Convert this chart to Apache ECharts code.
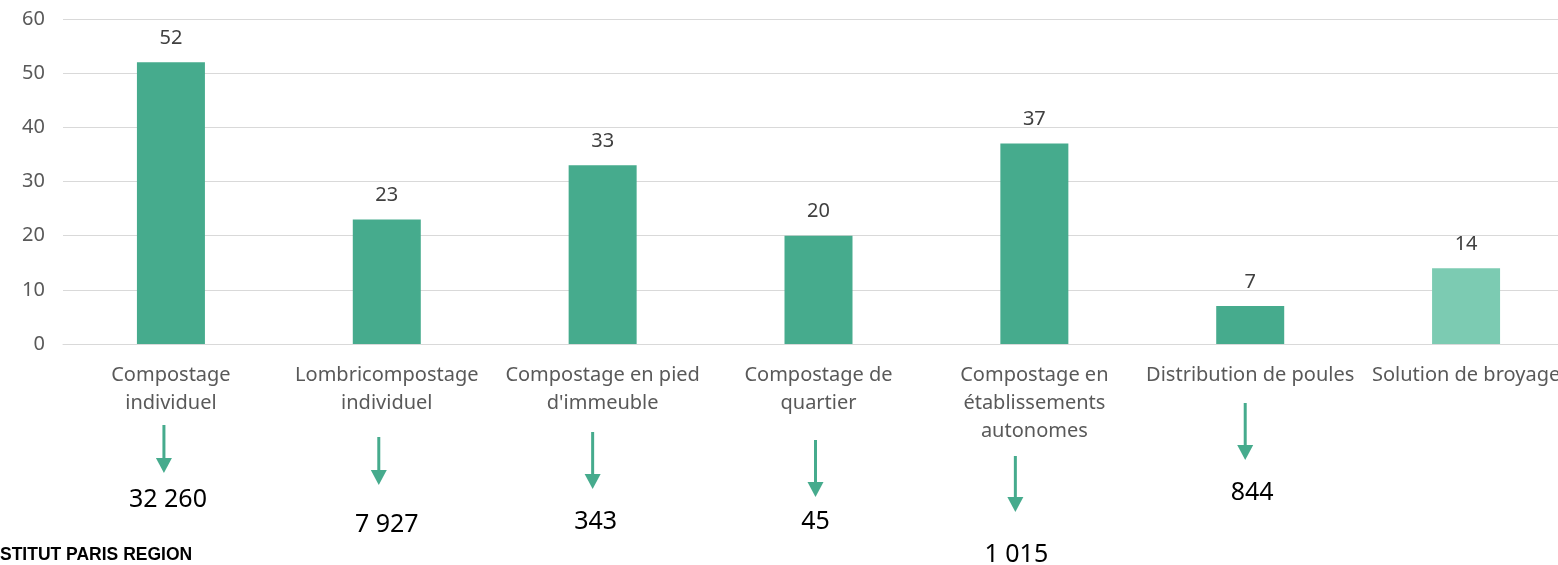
<!DOCTYPE html>
<html>
<head>
<meta charset="utf-8">
<script src="https://cdn.jsdelivr.net/npm/echarts@6/dist/echarts.min.js"></script>
<style>
  html, body { margin: 0; padding: 0; background: #fff; }
  #chart { width: 1558px; height: 565px; }
</style>
</head>
<body>
<div id="chart"></div>
<script>
// categories and values
const categories = [
  'Compostage\nindividuel',
  'Lombricompostage\nindividuel',
  'Compostage en pied\nd\'immeuble',
  'Compostage de\nquartier',
  'Compostage en\nétablissements\nautonomes',
  'Distribution de poules',
  'Solution de broyage'
];
const counts = [52, 23, 33, 20, 37, 7, 14];
const totals = ['32 260', '7 927', '343', '45', '1 015', '844', null];
const yTicks = { min: 0, max: 60, interval: 10 };

// where the arrow and the total sit under each category (px from the axis line)
const arrowDx = [-7, -8, -10, -3, -19, -5, 0];
const arrowTop = [81, 93, 88, 96, 112, 59, 0];
const arrowTip = [129, 141, 145, 153, 168, 116, 0];
const totalDx = [-3, 0, -7, -3, -18, 2, 0];
const totalDy = [156, 181, 178, 178, 211, 149, 0];

const green = '#46AB8D';
const lightGreen = '#7CCBB2';
const font = '"Noto Sans", sans-serif';

const chart = echarts.init(document.getElementById('chart'), null, { renderer: 'canvas' });

const option = {
  animation: false,
  grid: {
    left: 63, width: 1511, top: 19, height: 325,
    containLabel: false,
    outerBoundsMode: 'none'
  },
  xAxis: {
    type: 'category',
    data: categories,
    axisTick: { show: false },
    axisLine: { lineStyle: { color: '#D9D9D9', width: 1 } },
    axisLabel: {
      interval: 0,
      margin: 17,
      color: '#595959',
      fontFamily: font,
      fontSize: 20,
      lineHeight: 28
    }
  },
  yAxis: {
    type: 'value',
    min: yTicks.min,
    max: yTicks.max,
    interval: yTicks.interval,
    axisLine: { show: false },
    axisTick: { show: false },
    axisLabel: { margin: 18, color: '#595959', fontFamily: font, fontSize: 20 },
    splitLine: { lineStyle: { color: '#D9D9D9', width: 1 } }
  },
  series: [
    {
      type: 'bar',
      barWidth: 68,
      data: counts.map(function (v, i) {
        return { value: v, itemStyle: { color: i === counts.length - 1 ? lightGreen : green } };
      }),
      label: {
        show: true,
        position: 'top',
        distance: 14,
        color: '#404040',
        fontFamily: font,
        fontSize: 20
      }
    },
    {
      type: 'custom',
      clip: false,
      silent: true,
      data: categories.map(function (c, i) { return [i, 0]; }),
      renderItem: function (params, api) {
        const i = api.value(0);
        if (totals[i] == null) return null;
        const p = api.coord([i, 0]);
        const ax = p[0] + arrowDx[i];
        const y1 = p[1] + arrowTop[i];
        const y2 = p[1] + arrowTip[i];
        return {
          type: 'group',
          children: [
            {
              type: 'line',
              shape: { x1: ax, y1: y1, x2: ax, y2: y2 - 12 },
              style: { stroke: green, lineWidth: 3 }
            },
            {
              type: 'polygon',
              shape: { points: [[ax - 8, y2 - 15], [ax + 8, y2 - 15], [ax, y2]] },
              style: { fill: green }
            },
            {
              type: 'text',
              x: p[0] + totalDx[i],
              y: p[1] + totalDy[i],
              style: {
                text: totals[i],
                fill: '#000',
                font: '25px "Noto Sans", sans-serif',
                align: 'center',
                verticalAlign: 'middle'
              }
            }
          ]
        };
      }
    }
  ],
  graphic: [
    {
      type: 'text',
      left: -17.5,
      top: 546,
      style: {
        text: 'INSTITUT PARIS REGION',
        fill: '#000',
        font: 'bold 17.5px "Liberation Sans", Arial, sans-serif'
      }
    }
  ]
};

chart.setOption(option);
window.addEventListener('resize', function () {
  chart.resize();
});
</script>
</body>
</html>
